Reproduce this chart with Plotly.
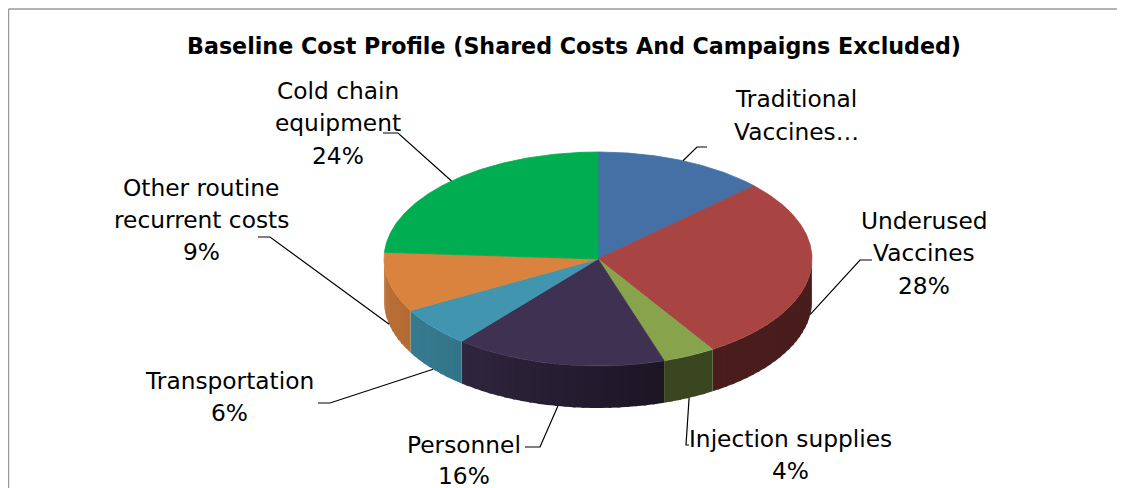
import numpy as np
import plotly.graph_objects as go

# ---------------- data ----------------
categories = ["Traditional Vaccines", "Underused Vaccines", "Injection supplies",
              "Personnel", "Transportation", "Other routine recurrent costs",
              "Cold chain equipment"]
values = [13, 28, 4, 16, 6, 9, 24]
label_names = [["Traditional", "Vaccines…"], ["Underused", "Vaccines"],
               ["Injection supplies"], ["Personnel"], ["Transportation"],
               ["Other routine", "recurrent costs"], ["Cold chain", "equipment"]]
show_percent = [False, True, True, True, True, True, True]
top_colors = ["#4570A6", "#A84543", "#87A34B", "#3F3152", "#4195AE", "#D9833F", "#00AD50"]
title_text = "Baseline Cost Profile (Shared Costs And Campaigns Excluded)"

# ---------------- layout constants (pixel space of the window) ----------------
W, H = 1125, 488
OFF = 8  # page body margin: figure is drawn 8px right/down of the window corner
CX, CY, RX, RY, DEPTH = 598, 259, 214, 107, 42
FONT = "DejaVu Sans"
LBL_SIZE = 23.3

# label placement: (center x, first line y, line step), elbow, end of leader
label_pos = [(796, 98, 33), (924, 220, 32.5), (790, 438, 32), (464, 444, 31),
             (229, 380, 32), (201, 187, 32), (338, 90, 32.5)]
elbows = [((697, 147), (707, 147)), ((860, 260), (872, 260)), ((686, 445), (689, 445)),
          ((540, 447), (525, 447)), ((330, 403), (318, 403)), ((270, 237), (258, 237)),
          ((398, 133), (383, 133))]


def hex2rgb(h):
    h = h.lstrip("#")
    return tuple(int(h[i:i + 2], 16) for i in (0, 2, 4))


def shade(hexc, f):
    r, g, b = hex2rgb(hexc)
    return "rgb(%d,%d,%d)" % (min(255, r * f), min(255, g * f), min(255, b * f))


def side_factor(t):
    # t in degrees, clockwise from top; front half is 90..270
    if t <= 160:
        return 0.43
    if t <= 225:
        return 0.43 + (t - 160) / 65 * 0.37
    return 0.80 + (min(t, 270) - 225) / 45 * 0.07


def ex(t):
    return CX + RX * np.sin(np.radians(t))


def ey(t):
    return CY - RY * np.cos(np.radians(t))


total = sum(values)
cum = np.concatenate([[0], np.cumsum(values)]) / total * 360.0

fig = go.Figure()

# side walls (front half only), drawn as overlapping shaded strips
for i, v in enumerate(values):
    a0, a1 = max(cum[i], 90), min(cum[i + 1], 270)
    if a1 <= a0:
        continue
    n = max(2, int(np.ceil((a1 - a0) / 2.5)))
    edges = np.linspace(a0, a1, n + 1)
    for k in range(n):
        s0, s1 = edges[k], edges[k + 1]
        s1x = min(a1, s1 + 0.8)
        ts = np.linspace(s0, s1x, 5)
        xs = list(ex(ts)) + list(ex(ts[::-1]))
        ys = list(ey(ts)) + list(ey(ts[::-1]) + DEPTH)
        col = shade(top_colors[i], side_factor((s0 + s1) / 2))
        fig.add_trace(go.Scatter(x=xs + [xs[0]], y=ys + [ys[0]], mode="lines",
                                 fill="toself", fillcolor=col,
                                 line=dict(color=col, width=0),
                                 hoverinfo="skip", showlegend=False))

# top faces
for i, v in enumerate(values):
    ts = np.linspace(cum[i], cum[i + 1], max(3, int((cum[i + 1] - cum[i]) * 2)))
    xs = [CX] + list(ex(ts)) + [CX]
    ys = [CY] + list(ey(ts)) + [CY]
    fig.add_trace(go.Scatter(x=xs, y=ys, mode="lines", fill="toself",
                             fillcolor=top_colors[i],
                             line=dict(color=top_colors[i], width=0.8),
                             name=categories[i], hoverinfo="name+text",
                             text="%d%%" % v, showlegend=False))

# leader lines and labels
for i, v in enumerate(values):
    mid = (cum[i] + cum[i + 1]) / 2
    ax, ay = ex(mid), ey(mid)
    if 90 < mid < 270:
        ay += DEPTH
    (e1, e2) = elbows[i]
    fig.add_trace(go.Scatter(x=[ax, e1[0], e2[0]], y=[ay, e1[1], e2[1]], mode="lines",
                             line=dict(color="black", width=1.2),
                             hoverinfo="skip", showlegend=False))
    lines = list(label_names[i])
    if show_percent[i]:
        lines.append("%d%%" % v)
    lx, ly, step = label_pos[i]
    for j, t in enumerate(lines):
        fig.add_annotation(x=lx, y=ly + j * step, text=t, showarrow=False,
                           xanchor="center", yanchor="middle",
                           font=dict(family=FONT, size=LBL_SIZE, color="black"))

fig.add_annotation(x=574, y=46, text="<b>%s</b>" % title_text, showarrow=False,
                   xanchor="center", yanchor="middle",
                   font=dict(family=FONT, size=22.2, color="black"))

# chart frame
fig.add_shape(type="line", x0=8.5, x1=8.5, y0=9, y1=H + OFF + 5, line=dict(color="#9a9a9a", width=1.5))
fig.add_shape(type="line", x0=8.5, x1=W + OFF + 5, y0=9, y1=9, line=dict(color="#9a9a9a", width=1.5))

fig.update_layout(
    width=W, height=H, margin=dict(l=0, r=0, t=0, b=0),
    paper_bgcolor="white", plot_bgcolor="white",
    xaxis=dict(range=[OFF, W + OFF], visible=False, fixedrange=True),
    yaxis=dict(range=[H + OFF, OFF], visible=False, fixedrange=True),
)

fig.write_html("out.html")
